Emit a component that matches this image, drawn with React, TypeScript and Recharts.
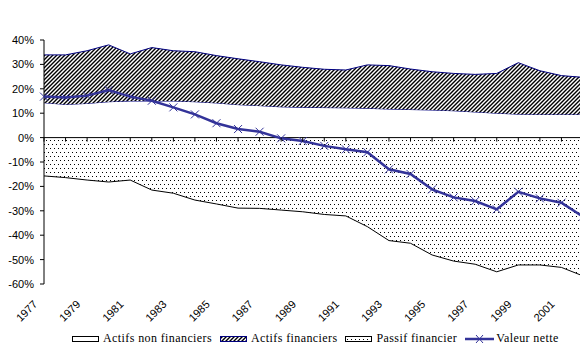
import { Area, ComposedChart, Legend, Line, ReferenceLine, XAxis, YAxis } from 'recharts';

const years = [
  '1977', '1978', '1979', '1980', '1981', '1982', '1983', '1984', '1985', '1986', '1987', '1988', '1989',
  '1990', '1991', '1992', '1993', '1994', '1995', '1996', '1997', '1998', '1999', '2000', '2001', '2002',
];

// valeurs en %
const actifsNonFinanciers = [
  14.3, 13.6, 14.0, 14.7, 15.0, 15.0, 15.0, 14.7, 14.2, 13.5, 13.1, 12.6, 12.4,
  12.3, 12.2, 12.0, 11.7, 11.5, 11.3, 11.0, 10.5, 10.0, 9.6, 9.5, 9.5, 9.5,
];
const actifsFinanciers = [
  19.6, 20.3, 21.6, 23.3, 19.3, 21.9, 20.6, 20.5, 19.4, 18.8, 18.0, 17.2, 16.4,
  15.7, 15.5, 17.8, 17.8, 16.6, 15.7, 15.3, 15.4, 16.3, 21.1, 17.9, 15.9, 15.2,
];
const passifFinancier = [
  -15.7, -16.4, -17.4, -18.2, -17.4, -21.5, -22.8, -25.6, -27.2, -28.9, -29.0, -29.7, -30.4,
  -31.5, -32.1, -36.5, -42.2, -43.3, -48.1, -50.6, -51.9, -55.0, -52.2, -52.2, -53.2, -56.7,
];
const valeurNette = [
  16.8, 16.4, 17.2, 19.5, 16.8, 15.1, 12.4, 9.5, 5.9, 3.5, 2.4, -0.3, -1.4,
  -3.4, -4.8, -6.0, -13.0, -14.9, -21.2, -24.5, -26.0, -29.4, -22.2, -24.9, -26.7, -32.4,
];
const yTicks = [-60, -50, -40, -30, -20, -10, 0, 10, 20, 30, 40];

const data = years.map((year, i) => ({
  year,
  nonFin: actifsNonFinanciers[i],
  fin: actifsFinanciers[i],
  passif: passifFinancier[i],
  nette: valeurNette[i],
}));

const last = years.length - 1;

const W = 588;
const H = 357;
const TOP = 40;
const X_AXIS_H = 73;
const PLOT_H = H - TOP - X_AXIS_H;
const ZERO_Y = TOP + (PLOT_H * 40) / 100;
const LINE_COLOR = '#333399';
const NAVY = '#000080';

// tick marks sit on the 0% line, labels (every other year) stay at the bottom
function YearTick(props: any) {
  const { x, payload, index } = props;
  const lx = x - 6;
  const ly = TOP + PLOT_H + 21;
  return (
    <g>
      <line x1={x} x2={x} y1={ZERO_Y} y2={ZERO_Y + 4} stroke="#000" />
      {index % 2 === 0 && (
        <text
          x={lx}
          y={ly}
          textAnchor="end"
          transform={`rotate(-45, ${lx}, ${ly})`}
          fontSize={11}
          fontFamily="'Liberation Sans', Arial, sans-serif"
          fill="#000"
        >
          {payload.value}
        </text>
      )}
    </g>
  );
}

function Cross(props: any) {
  const { cx, cy } = props;
  if (cx == null || cy == null) return null;
  const s = 4;
  return (
    <g stroke={LINE_COLOR} strokeWidth={1}>
      <line x1={cx - s} y1={cy - s} x2={cx + s} y2={cy + s} />
      <line x1={cx - s} y1={cy + s} x2={cx + s} y2={cy - s} />
    </g>
  );
}

const legendItems = [
  { label: 'Actifs non financiers', kind: 'white' },
  { label: 'Actifs financiers', kind: 'hatch' },
  { label: 'Passif financier', kind: 'dots' },
  { label: 'Valeur nette', kind: 'line' },
];

function LegendBox({ kind }: { kind: string }) {
  if (kind === 'line') {
    return (
      <svg width={29} height={10} style={{ marginRight: 2 }}>
        <line x1={0} y1={5} x2={29} y2={5} stroke={LINE_COLOR} strokeWidth={2.5} />
        <line x1={11} y1={1} x2={18} y2={9} stroke={LINE_COLOR} />
        <line x1={11} y1={9} x2={18} y2={1} stroke={LINE_COLOR} />
      </svg>
    );
  }
  const fill = kind === 'hatch' ? 'url(#hatch)' : kind === 'dots' ? 'url(#dots)' : '#fff';
  const stroke = kind === 'hatch' ? NAVY : '#000';
  return (
    <svg width={27} height={8} style={{ marginRight: 4 }}>
      <rect x={0.5} y={1.5} width={26} height={5} fill={fill} stroke={stroke} />
    </svg>
  );
}

function ChartLegend() {
  return (
    <div
      style={{
        display: 'flex',
        alignItems: 'center',
        paddingLeft: 72,
        fontFamily: '"Liberation Serif", "Times New Roman", Times, serif',
        fontSize: 12,
        letterSpacing: 0.4,
        color: '#000',
        whiteSpace: 'nowrap',
      }}
    >
      {legendItems.map((it) => (
        <div key={it.label} style={{ display: 'flex', alignItems: 'center', marginRight: 8 }}>
          <LegendBox kind={it.kind} />
          <span>{it.label}</span>
        </div>
      ))}
    </div>
  );
}

export default function App() {
  return (
    <div style={{ margin: -8, width: W, height: H, background: '#fff' }}>
      <ComposedChart width={W} height={H} data={data} margin={{ top: TOP, right: 5, bottom: 0, left: 0 }}>
        <defs>
          <pattern id="hatch" patternUnits="userSpaceOnUse" width={4} height={4}>
            <rect width={4} height={4} fill="#fff" />
            <path d="M-1,1 l2,-2 M0,4 l4,-4 M3,5 l2,-2" stroke="#000" strokeWidth={1.4} />
          </pattern>
          <pattern id="dots" patternUnits="userSpaceOnUse" width={4} height={8}>
            <rect width={4} height={8} fill="#fff" />
            <rect x={0} y={0} width={1} height={1} fill="#000" />
            <rect x={2} y={4} width={1} height={1} fill="#000" />
          </pattern>
        </defs>
        <XAxis
          dataKey="year"
          type="category"
          scale="point"
          padding={{ left: 0, right: 0 }}
          interval={0}
          height={X_AXIS_H}
          axisLine={false}
          tickLine={false}
          tick={<YearTick />}
        />
        <YAxis
          domain={[-60, 40]}
          ticks={yTicks}
          width={44}
          tickFormatter={(v) => `${v}%`}
          tick={{ fontSize: 11, fill: '#000', fontFamily: "'Liberation Sans', Arial, sans-serif" }}
          tickSize={4}
          tickMargin={6}
          stroke="#000"
          axisLine={{ stroke: '#000' }}
          tickLine={{ stroke: '#000' }}
          allowDataOverflow
        />
        <Area
          type="linear"
          dataKey="nonFin"
          name="Actifs non financiers"
          stackId="actifs"
          stroke={NAVY}
          fill="#fff"
          fillOpacity={1}
          isAnimationActive={false}
          activeDot={false}
        />
        <Area
          type="linear"
          dataKey="fin"
          name="Actifs financiers"
          stackId="actifs"
          stroke={NAVY}
          fill="url(#hatch)"
          fillOpacity={1}
          isAnimationActive={false}
          activeDot={false}
        />
        <Area
          type="linear"
          dataKey="passif"
          name="Passif financier"
          baseValue={0}
          stroke="#000"
          fill="url(#dots)"
          fillOpacity={1}
          isAnimationActive={false}
          activeDot={false}
        />
        <ReferenceLine y={0} stroke="#000" />
        <ReferenceLine
          segment={[
            { x: years[last], y: passifFinancier[last] },
            { x: years[last], y: actifsNonFinanciers[last] + actifsFinanciers[last] },
          ]}
          stroke="#000"
        />
        <Line
          type="linear"
          dataKey="nette"
          name="Valeur nette"
          stroke={LINE_COLOR}
          strokeWidth={2.5}
          dot={<Cross />}
          activeDot={false}
          isAnimationActive={false}
        />
        <Legend
          verticalAlign="middle"
          align="center"
          content={() => <ChartLegend />}
          wrapperStyle={{ top: 331, left: 0, width: W }}
        />
      </ComposedChart>
    </div>
  );
}
